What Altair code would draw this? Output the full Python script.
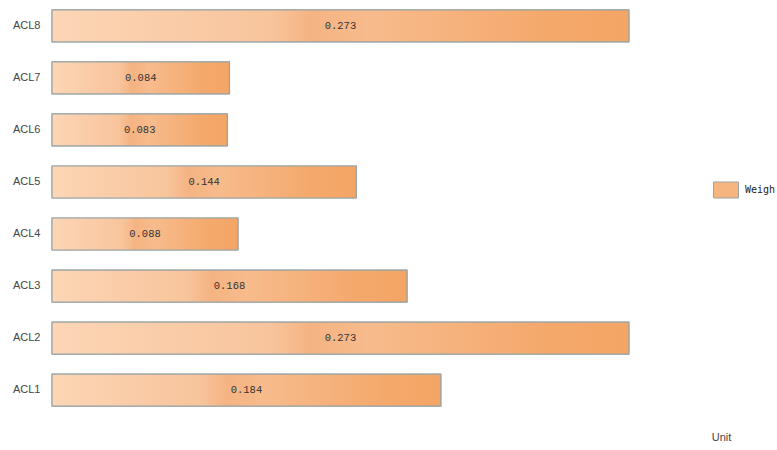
import altair as alt
import pandas as pd

categories = ["ACL1", "ACL2", "ACL3", "ACL4", "ACL5", "ACL6", "ACL7", "ACL8"]
weights = [0.184, 0.273, 0.168, 0.088, 0.144, 0.083, 0.084, 0.273]
labels = ["0.184", "0.273", "0.168", "0.088", "0.144", "0.083", "0.084", "0.273"]
series_name = "Weigh"

df = pd.DataFrame({"cat": categories, "w": weights, "lab": labels, "s": series_name})
df["half"] = df["w"] / 2

order = list(reversed(categories))

grad = alt.Gradient(
    gradient="linear",
    x1=0, x2=1, y1=0, y2=0,
    stops=[
        alt.GradientStop(color="#fcd6b6", offset=0),
        alt.GradientStop(color="#f8c49c", offset=0.38),
        alt.GradientStop(color="#f5b382", offset=0.45),
        alt.GradientStop(color="#f7bb8c", offset=0.55),
        alt.GradientStop(color="#f4a96c", offset=0.85),
        alt.GradientStop(color="#f3a564", offset=1),
    ],
)

xscale = alt.Scale(domain=[0, 0.3], nice=False, zero=True)
yscale = alt.Scale(domain=order, paddingInner=0.385, paddingOuter=0.19)

base = alt.Chart(df)

yenc = alt.Y("cat:N", scale=yscale, sort=order,
             axis=alt.Axis(title=None, domain=False, ticks=False, labelPadding=12,
                           labelFont="Liberation Sans", labelFontSize=11, labelColor="#444444"))
xenc = alt.X("w:Q", scale=xscale,
             axis=alt.Axis(title="Unit", domain=False, ticks=False, labels=False, grid=False,
                           titleX=669, titleY=21, titleAlign="center", titleBaseline="middle",
                           titleFont="Liberation Sans", titleFontSize=11, titleFontWeight="normal",
                           titleColor="#444444"))

legend_bars = base.mark_bar(stroke="#9aa4a6", strokeWidth=1).encode(
    x=xenc, y=yenc,
    color=alt.Color("s:N", scale=alt.Scale(domain=[series_name], range=["#f6b47e"]),
                    legend=alt.Legend(title=None, orient="none", legendX=661, legendY=177,
                                      symbolType="M-1,-0.64L1,-0.64L1,0.64L-1,0.64Z",
                                      symbolSize=625, symbolStrokeColor="#9aa4a6",
                                      symbolStrokeWidth=1, symbolOpacity=1,
                                      labelFont="DejaVu Sans Mono", labelFontSize=10,
                                      labelColor="#222222", labelOffset=6, padding=0)),
)

grad_bars = base.mark_bar(fill=grad, stroke="#9aa4a6", strokeWidth=1.2).encode(
    x=alt.X("w:Q", scale=xscale), y=alt.Y("cat:N", scale=yscale, sort=order),
)

text = base.mark_text(font="Liberation Mono", fontSize=10.5, color="#333333").encode(
    x=alt.X("half:Q", scale=xscale), y=alt.Y("cat:N", scale=yscale, sort=order),
    text="lab:N",
)

chart = alt.layer(legend_bars, grad_bars, text).properties(
    width=634, height=416,
    autosize="none",
    padding={"left": 52, "top": 0, "right": 91, "bottom": 34},
).configure(background="white").configure_view(strokeWidth=0, stroke="transparent")

chart.save("out.html", embed_options={"renderer": "svg", "actions": False})
